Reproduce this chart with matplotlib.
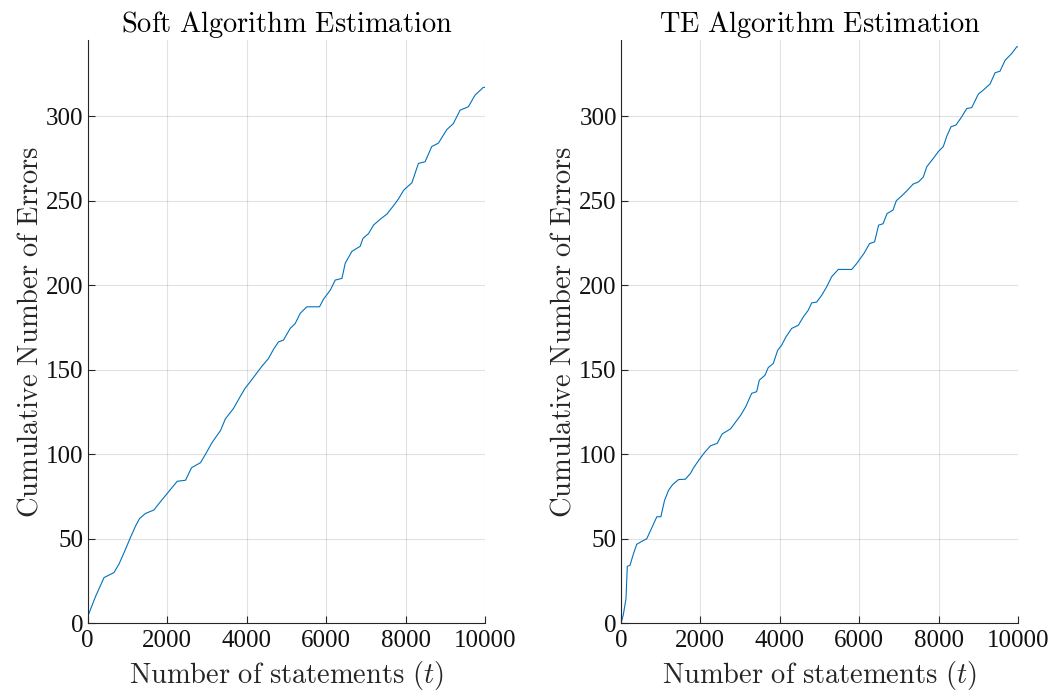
import matplotlib
matplotlib.use("Agg")
from matplotlib import pyplot as plt

# cumulative error counts read along each run (statement index, errors so far)
soft_t = [0, 17, 200, 410, 660, 787, 937, 1080, 1206, 1306, 1457, 1666, 1834,
          2043, 2254, 2462, 2613, 2839, 2965, 3132, 3342, 3467, 3668, 3836,
          3962, 4088, 4214, 4383, 4550, 4675, 4801, 4927, 5096, 5222, 5348,
          5516, 5834, 5935, 6103, 6231, 6399, 6482, 6650, 6859, 6926, 7068,
          7193, 7362, 7529, 7697, 7822, 7948, 7990, 8158, 8324, 8492, 8660,
          8827, 9038, 9204, 9372, 9580, 9749, 9957, 10000]
soft_err = [0, 5, 16, 27, 30, 35, 43, 51, 57.6, 62, 65, 67, 72,
            78, 84, 84.6, 92, 95, 100, 107, 114, 121, 127, 134,
            139, 142.8, 146.7, 152, 156.6, 162, 166.4, 167.5, 174.4, 177.3, 183.3,
            187.2, 187.2, 191.7, 197, 203, 204, 213, 220, 223, 227.6, 230.5,
            235.5, 239, 242, 247, 251, 256, 257, 260.5, 272, 273, 282,
            284, 292, 295.6, 303.5, 305.5, 312.4, 317, 317]

te_t = [0, 59, 127, 160, 228, 313, 397, 566, 650, 760, 904, 1005, 1097, 1198,
        1300, 1451, 1620, 1747, 1831, 1958, 2085, 2254, 2423, 2550, 2760, 2887,
        3013, 3140, 3292, 3418, 3484, 3627, 3711, 3837, 3947, 4047, 4156, 4299,
        4467, 4592, 4718, 4803, 4929, 5055, 5181, 5307, 5474, 5811, 5937, 6118,
        6261, 6387, 6488, 6599, 6700, 6851, 6936, 7080, 7232, 7359, 7489, 7615,
        7700, 7867, 7993, 8118, 8204, 8312, 8438, 8582, 8708, 8834, 9000, 9126,
        9295, 9421, 9547, 9673, 9841, 9967, 10000]
te_err = [0, 5, 14.6, 33.7, 34.3, 41, 46.7, 49, 50, 55.6, 63, 63, 72.6, 78.6,
          82, 85, 85.2, 88.5, 92, 96.4, 100.4, 105, 106.4, 112, 115, 119,
          123, 128, 136, 137, 143.8, 146.7, 151.3, 153.7, 161.5, 164.5, 169.4, 174.4,
          176.3, 181.2, 185.2, 189.5, 190, 194, 199, 205, 209.3, 209.3, 212.8, 218.7,
          224.6, 225.6, 235.5, 236.3, 242.3, 244.4, 250, 253, 256.6, 259.8, 261, 264,
          270, 275, 279, 282, 288, 293.7, 294.7, 299.6, 304.5, 305, 313, 315.4,
          319, 325.6, 326.6, 333, 337, 341, 341]

x_ticks = [0, 2000, 4000, 6000, 8000, 10000]
y_ticks = [0, 50, 100, 150, 200, 250, 300]

plt.rcParams['font.family'] = ['Liberation Serif', 'DejaVu Serif']
plt.rcParams['mathtext.fontset'] = 'cm'

fig = plt.figure(figsize=(10.53, 6.96), dpi=100)
ax1 = fig.add_axes([0.0833, 0.1045, 0.3773, 0.8380])
ax2 = fig.add_axes([0.5897, 0.1045, 0.3771, 0.8380])

panels = [
    (ax1, soft_t, soft_err, r'$\mathrm{Soft\ Algorithm\ Estimation}$'),
    (ax2, te_t, te_err, r'$\mathrm{TE\ Algorithm\ Estimation}$'),
]

for ax, t, err, title in panels:
    ax.plot(t, err, color='#0072BD', linewidth=0.8)
    ax.set_xlim(0, 10000)
    ax.set_ylim(0, 345)
    ax.set_xticks(x_ticks)
    ax.set_yticks(y_ticks)
    ax.tick_params(direction='in', length=5, width=0.8, colors='#262626',
                   labelsize=18, labelcolor='#111111', pad=3)
    ax.tick_params(axis='x', pad=5)
    ax.grid(True, color='#262626', alpha=0.13, linewidth=0.8)
    ax.set_axisbelow(True)
    for side in ['top', 'right']:
        ax.spines[side].set_visible(False)
    for side in ['left', 'bottom']:
        ax.spines[side].set_color('#262626')
        ax.spines[side].set_linewidth(0.8)
    ax.set_title(title, fontsize=20.5, pad=6)
    ax.set_xlabel(r'$\mathrm{Number\ of\ statements\ }(t)$', fontsize=20.5,
                  color='#262626', labelpad=5)
    ax.set_ylabel(r'$\mathrm{Cumulative\ Number\ of\ Errors}$', fontsize=20.5,
                  color='#262626', labelpad=2)

plt.savefig("out.png", dpi=100)
